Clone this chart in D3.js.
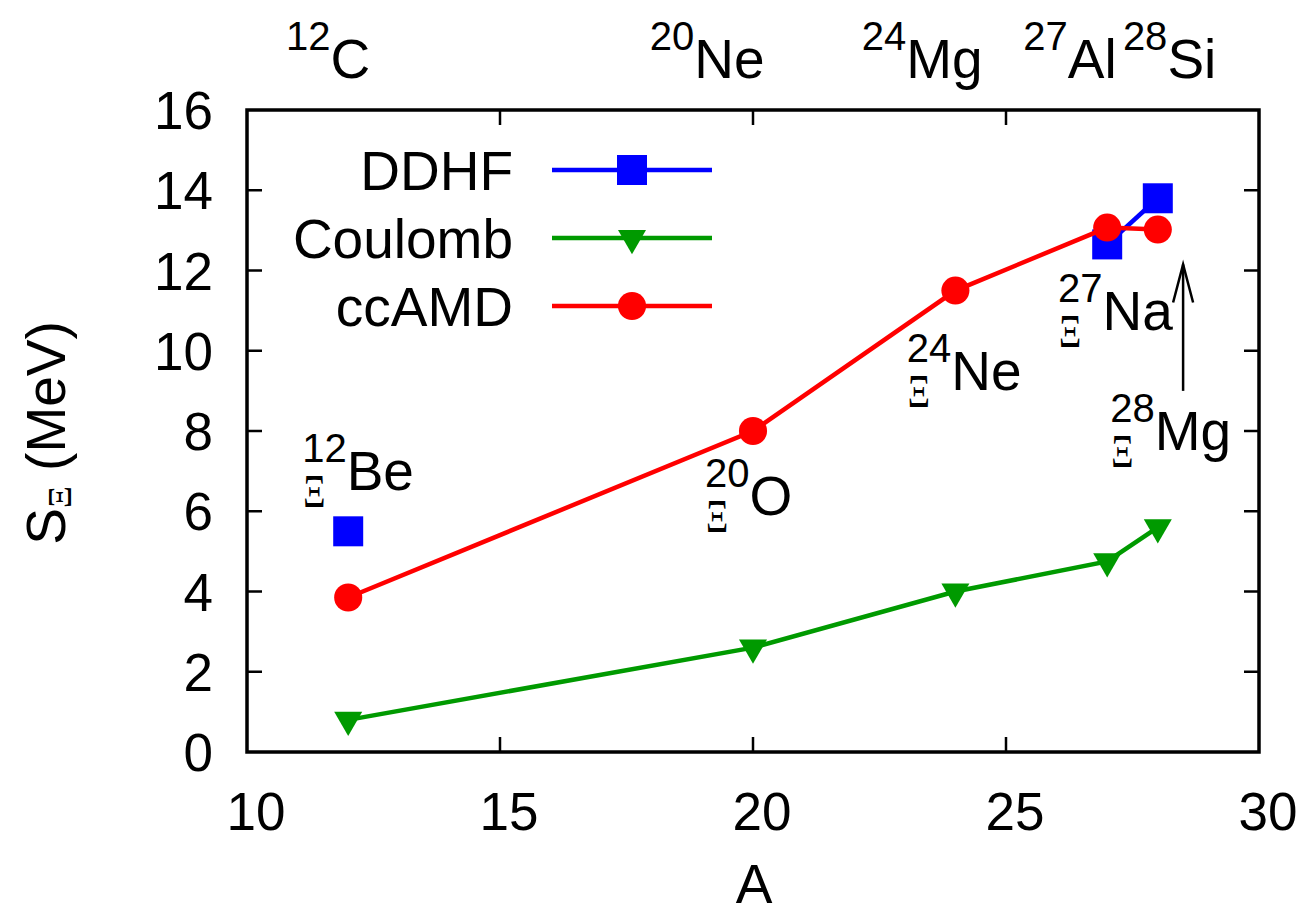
<!DOCTYPE html>
<html>
<head>
<meta charset="utf-8">
<script src="https://cdn.jsdelivr.net/npm/d3@7"></script>
<style>
  html, body { margin: 0; padding: 0; background: #fff; }
  svg { display: block; }
  text { font-family: "Liberation Sans", Arial, Helvetica, sans-serif; fill: #000; }
  .xi { font-family: "Liberation Serif", "DejaVu Serif", serif; }
</style>
</head>
<body>
<svg id="chart" width="1300" height="916"></svg>
<script>
// Mass numbers of the computed hypernuclei
const massA = [12, 20, 24, 27, 28];
// Ξ separation energies (MeV)
const coulombS = [0.8, 2.6, 4.0, 4.75, 5.6];
const ccamdS = [3.85, 8.0, 11.5, 13.07, 13.02];
// DDHF: isolated point at A=12, connected pair at A=27–28
const ddhfA = [12, 27, 28];
const ddhfS = [5.5, 12.65, 13.8];
const ddhfSegment = [0, 1, 1];

const xTicks = [10, 15, 20, 25, 30];
const yTicks = [0, 2, 4, 6, 8, 10, 12, 14, 16];

// Core nuclei along the top edge (mass, symbol, left edge in A units)
const coreMass = ["12", "20", "24", "27", "28"];
const coreSym = ["C", "Ne", "Mg", "Al", "Si"];
const coreAt = [10.77, 17.96, 22.15, 25.34, 27.31];

// Hypernucleus annotations (left edge in A, baseline in MeV)
const hyperMass = ["12", "20", "24", "27", "28"];
const hyperSym = ["Be", "O", "Ne", "Na", "Mg"];
const hyperX = [11.09, 19.05, 23.04, 26.03, 27.06];
const hyperY = [6.53, 5.91, 9.02, 10.52, 7.53];

// Arrow from the 28Mg label up toward the 28 points
const arrowA = 28.5, arrowFrom = 9.0, arrowTo = 12.15;

const legendNames = ["DDHF", "Coulomb", "ccAMD"];
const colors = { ddhf: "#0000ff", coulomb: "#009a00", ccamd: "#ff0000" };

const svg = d3.select("#chart");
svg.append("rect").attr("width", 1300).attr("height", 916).attr("fill", "#fff");

const plot = { left: 247, right: 1259, top: 110, bottom: 752 };
const x = d3.scaleLinear().domain([10, 30]).range([plot.left, plot.right]);
const y = d3.scaleLinear().domain([0, 16]).range([plot.bottom, plot.top]);

const FS = 55, SUP = 40;

// Axes with inward ticks on all four sides
const tickLen = 15;
const axisG = svg.append("g");
xTicks.forEach(t => {
  if (t === 10 || t === 30) return;
  axisG.append("line").attr("x1", x(t)).attr("x2", x(t))
    .attr("y1", plot.bottom).attr("y2", plot.bottom - tickLen)
    .attr("stroke", "#000").attr("stroke-width", 2.5);
  axisG.append("line").attr("x1", x(t)).attr("x2", x(t))
    .attr("y1", plot.top).attr("y2", plot.top + tickLen)
    .attr("stroke", "#000").attr("stroke-width", 2.5);
});
yTicks.forEach(t => {
  if (t === 0 || t === 16) return;
  axisG.append("line").attr("x1", plot.left).attr("x2", plot.left + tickLen)
    .attr("y1", y(t)).attr("y2", y(t))
    .attr("stroke", "#000").attr("stroke-width", 2.5);
  axisG.append("line").attr("x1", plot.right).attr("x2", plot.right - tickLen)
    .attr("y1", y(t)).attr("y2", y(t))
    .attr("stroke", "#000").attr("stroke-width", 2.5);
});
axisG.append("rect")
  .attr("x", plot.left).attr("y", plot.top)
  .attr("width", plot.right - plot.left).attr("height", plot.bottom - plot.top)
  .attr("fill", "none").attr("stroke", "#000").attr("stroke-width", 3.5);

// Tick labels
svg.append("g").selectAll("text").data(xTicks).join("text")
  .attr("x", d => x(d) + 9).attr("y", 830)
  .attr("text-anchor", "middle").attr("font-size", 53).text(d => d);
svg.append("g").selectAll("text").data(yTicks).join("text")
  .attr("x", 213).attr("y", d => y(d) + 19)
  .attr("text-anchor", "end").attr("font-size", 53).text(d => d);

// Axis titles
svg.append("text").attr("x", 754).attr("y", 903)
  .attr("text-anchor", "middle").attr("font-size", FS).text("A");
const yl = svg.append("text")
  .attr("transform", "translate(65,433) rotate(-90)")
  .attr("text-anchor", "middle").attr("font-size", FS);
yl.append("tspan").text("S");
yl.append("tspan").attr("class", "xi").attr("font-size", 34).attr("dy", 6).text("Ξ");
yl.append("tspan").attr("dy", -6).text(" (MeV)");

// Nucleus label: superscript mass, optional Ξ presubscript, element symbol
function nucleus(g, x0, base, mass, sym, withXi) {
  const t = g.append("text").attr("x", x0).attr("y", base).attr("font-size", FS);
  t.append("tspan").attr("font-size", SUP).attr("dy", -28).text(mass);
  t.append("tspan").attr("dy", 28).text(sym);
  if (withXi) {
    g.append("g").attr("transform", `translate(${x0 + 1},${base + 17}) scale(0.75,1)`)
      .append("text").attr("class", "xi").attr("font-size", 46).text("Ξ");
  }
}
const labelG = svg.append("g");
coreMass.forEach((m, i) => nucleus(labelG, x(coreAt[i]), 78, m, coreSym[i], false));
hyperMass.forEach((m, i) => nucleus(labelG, x(hyperX[i]), y(hyperY[i]), m, hyperSym[i], true));

// Arrow
svg.append("line")
  .attr("x1", x(arrowA)).attr("x2", x(arrowA))
  .attr("y1", y(arrowFrom)).attr("y2", y(arrowTo))
  .attr("stroke", "#000").attr("stroke-width", 2.5);
svg.append("path")
  .attr("d", `M${x(arrowA) - 10},${y(arrowTo) + 38} L${x(arrowA)},${y(arrowTo)} L${x(arrowA) + 10},${y(arrowTo) + 38}`)
  .attr("fill", "none").attr("stroke", "#000").attr("stroke-width", 2.5);

// Series
const line = d3.line().x(d => x(d[0])).y(d => y(d[1]));
const sqSym = d3.symbol().type(d3.symbolSquare).size(900);
const triSym = d3.symbol().type(d3.symbolTriangle).size(340);
const cirSym = d3.symbol().type(d3.symbolCircle).size(620);

// DDHF
const ddhfPts = ddhfA.map((a, i) => [a, ddhfS[i], ddhfSegment[i]]);
d3.groups(ddhfPts, d => d[2]).forEach(([, pts]) => {
  if (pts.length > 1) {
    svg.append("path").attr("d", line(pts)).attr("fill", "none")
      .attr("stroke", colors.ddhf).attr("stroke-width", 4.5);
  }
});
svg.append("g").selectAll("path").data(ddhfPts).join("path")
  .attr("d", sqSym).attr("fill", colors.ddhf)
  .attr("transform", d => `translate(${x(d[0])},${y(d[1])})`);

// Coulomb
const coulPts = massA.map((a, i) => [a, coulombS[i]]);
svg.append("path").attr("d", line(coulPts)).attr("fill", "none")
  .attr("stroke", colors.coulomb).attr("stroke-width", 4.5);
svg.append("g").selectAll("path").data(coulPts).join("path")
  .attr("d", triSym).attr("fill", colors.coulomb)
  .attr("transform", d => `translate(${x(d[0])},${y(d[1])}) rotate(180)`);

// ccAMD
const ccPts = massA.map((a, i) => [a, ccamdS[i]]);
svg.append("path").attr("d", line(ccPts)).attr("fill", "none")
  .attr("stroke", colors.ccamd).attr("stroke-width", 4.5);
svg.append("g").selectAll("path").data(ccPts).join("path")
  .attr("d", cirSym).attr("fill", colors.ccamd)
  .attr("transform", d => `translate(${x(d[0])},${y(d[1])})`);

// Legend
const legRows = [
  { color: colors.ddhf, sym: sqSym, rot: 0 },
  { color: colors.coulomb, sym: triSym, rot: 180 },
  { color: colors.ccamd, sym: cirSym, rot: 0 }
];
legendNames.forEach((name, i) => {
  const ly = 170 + i * 68;
  svg.append("text").attr("x", 513).attr("y", ly + 20)
    .attr("text-anchor", "end").attr("font-size", FS).text(name);
  svg.append("line").attr("x1", 552).attr("x2", 712).attr("y1", ly).attr("y2", ly)
    .attr("stroke", legRows[i].color).attr("stroke-width", 4.5);
  svg.append("path").attr("d", legRows[i].sym()).attr("fill", legRows[i].color)
    .attr("transform", `translate(632,${ly}) rotate(${legRows[i].rot})`);
});
</script>
</body>
</html>
